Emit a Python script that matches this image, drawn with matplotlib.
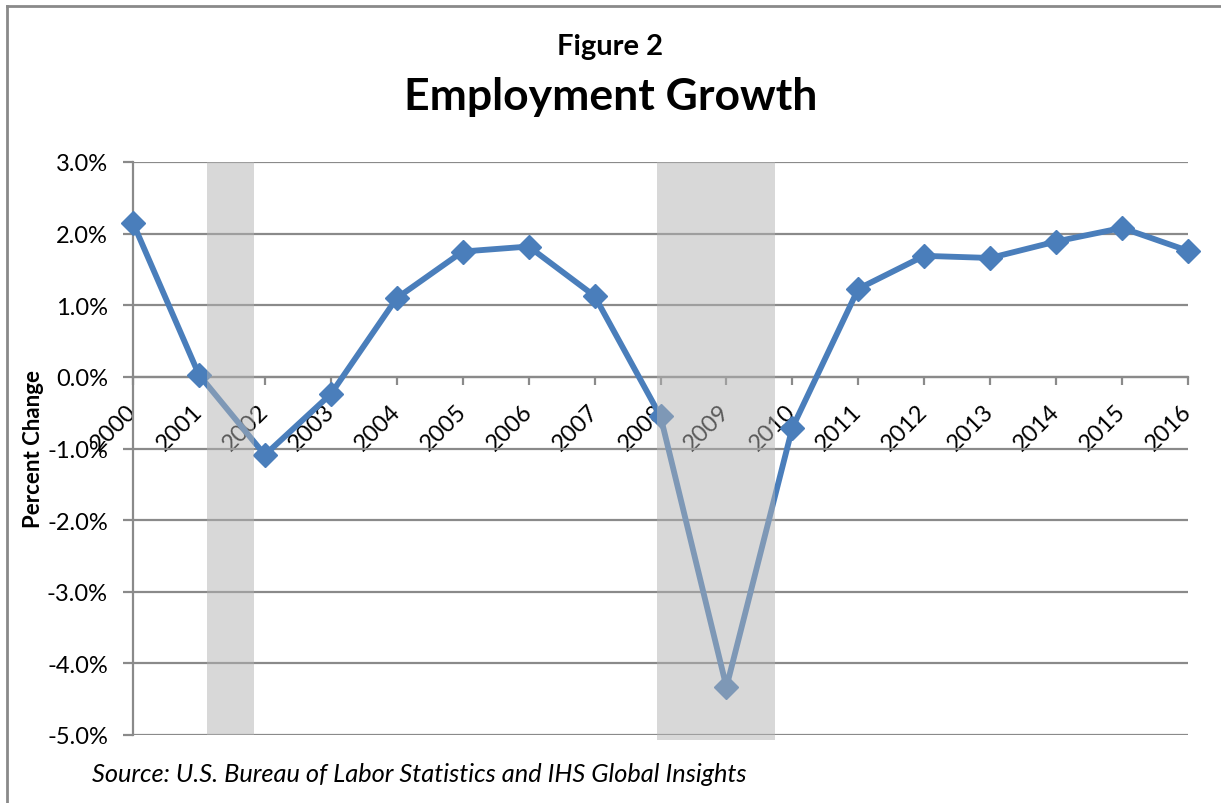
import matplotlib
matplotlib.use("Agg")
import matplotlib.pyplot as plt
from matplotlib.lines import Line2D
from matplotlib.ticker import FuncFormatter

plt.rcParams['font.family'] = ['Lato', 'DejaVu Sans']

# annual employment growth, percent
years = list(range(2000, 2017))
growth = [2.15, 0.03, -1.09, -0.24, 1.10, 1.75, 1.82, 1.13, -0.55,
          -4.33, -0.71, 1.23, 1.69, 1.66, 1.89, 2.08, 1.76]

# recession periods (fractional years)
recessions = [(2001.12, 2001.84), (2007.95, 2009.73)]

blue = '#4a7ebb'
gray = '#8a8a8a'

fig = plt.figure(figsize=(12.21, 8.04), dpi=100)
ax = fig.add_axes([133/1221, 1 - 736/804, (1188 - 133)/1221, (736 - 163)/804])

ax.plot(years, growth, color=blue, lw=4.2, marker='D', ms=12.5,
        zorder=3, clip_on=False)

for i, (a, b) in enumerate(recessions):
    ax.axvspan(a, b, ymin=-0.008 if i == 1 else 0, ymax=1,
               color='#b3b3b3', alpha=0.5, lw=0, zorder=5, clip_on=False)

# x axis crosses at zero (set before labels, it resets the ticks)
for s in ['top', 'right']:
    ax.spines[s].set_visible(False)
ax.spines['bottom'].set_position(('data', 0))
for s in ['left', 'bottom']:
    ax.spines[s].set_color(gray)
    ax.spines[s].set_linewidth(1.6)

ax.set_xlim(2000, 2016)
ax.set_ylim(-5, 3)
ax.set_yticks(range(-5, 4))
ax.yaxis.set_major_formatter(FuncFormatter(lambda v, p: f'{v:.1f}%'))
ax.set_xticks(years)

ax.tick_params(axis='y', length=7, width=1.6, color=gray, labelsize=17,
               pad=11)
ax.tick_params(axis='x', length=6, width=1.6, color=gray, labelsize=17,
               pad=16)
ax.set_xticklabels([str(y) for y in years], rotation=45, ha='right',
                   va='center', rotation_mode='anchor')

ax.grid(axis='y', color=gray, lw=1.6)
ax.grid(axis='x', visible=False)

ax.set_ylabel('Percent Change', fontsize=16, fontweight='bold')
ax.yaxis.set_label_coords(-0.084, 0.5)

fig.text(0.5, 1 - 47/804, 'Figure 2', ha='center', va='center',
         fontsize=21, fontweight='bold')
fig.text(0.5, 1 - 97/804, 'Employment Growth', ha='center', va='center',
         fontsize=32, fontweight='bold')
fig.text(92/1221, 1 - 775/804,
         'Source: U.S. Bureau of Labor Statistics and IHS Global Insights',
         ha='left', va='center', fontsize=18.3, style='italic')

# chart frame edges
fig.add_artist(Line2D([7/1221, 7/1221], [0, 1 - 7/804], color=gray, lw=2))
fig.add_artist(Line2D([7/1221, 1], [1 - 7/804, 1 - 7/804], color=gray, lw=2))

fig.savefig('out.png', dpi=100)
